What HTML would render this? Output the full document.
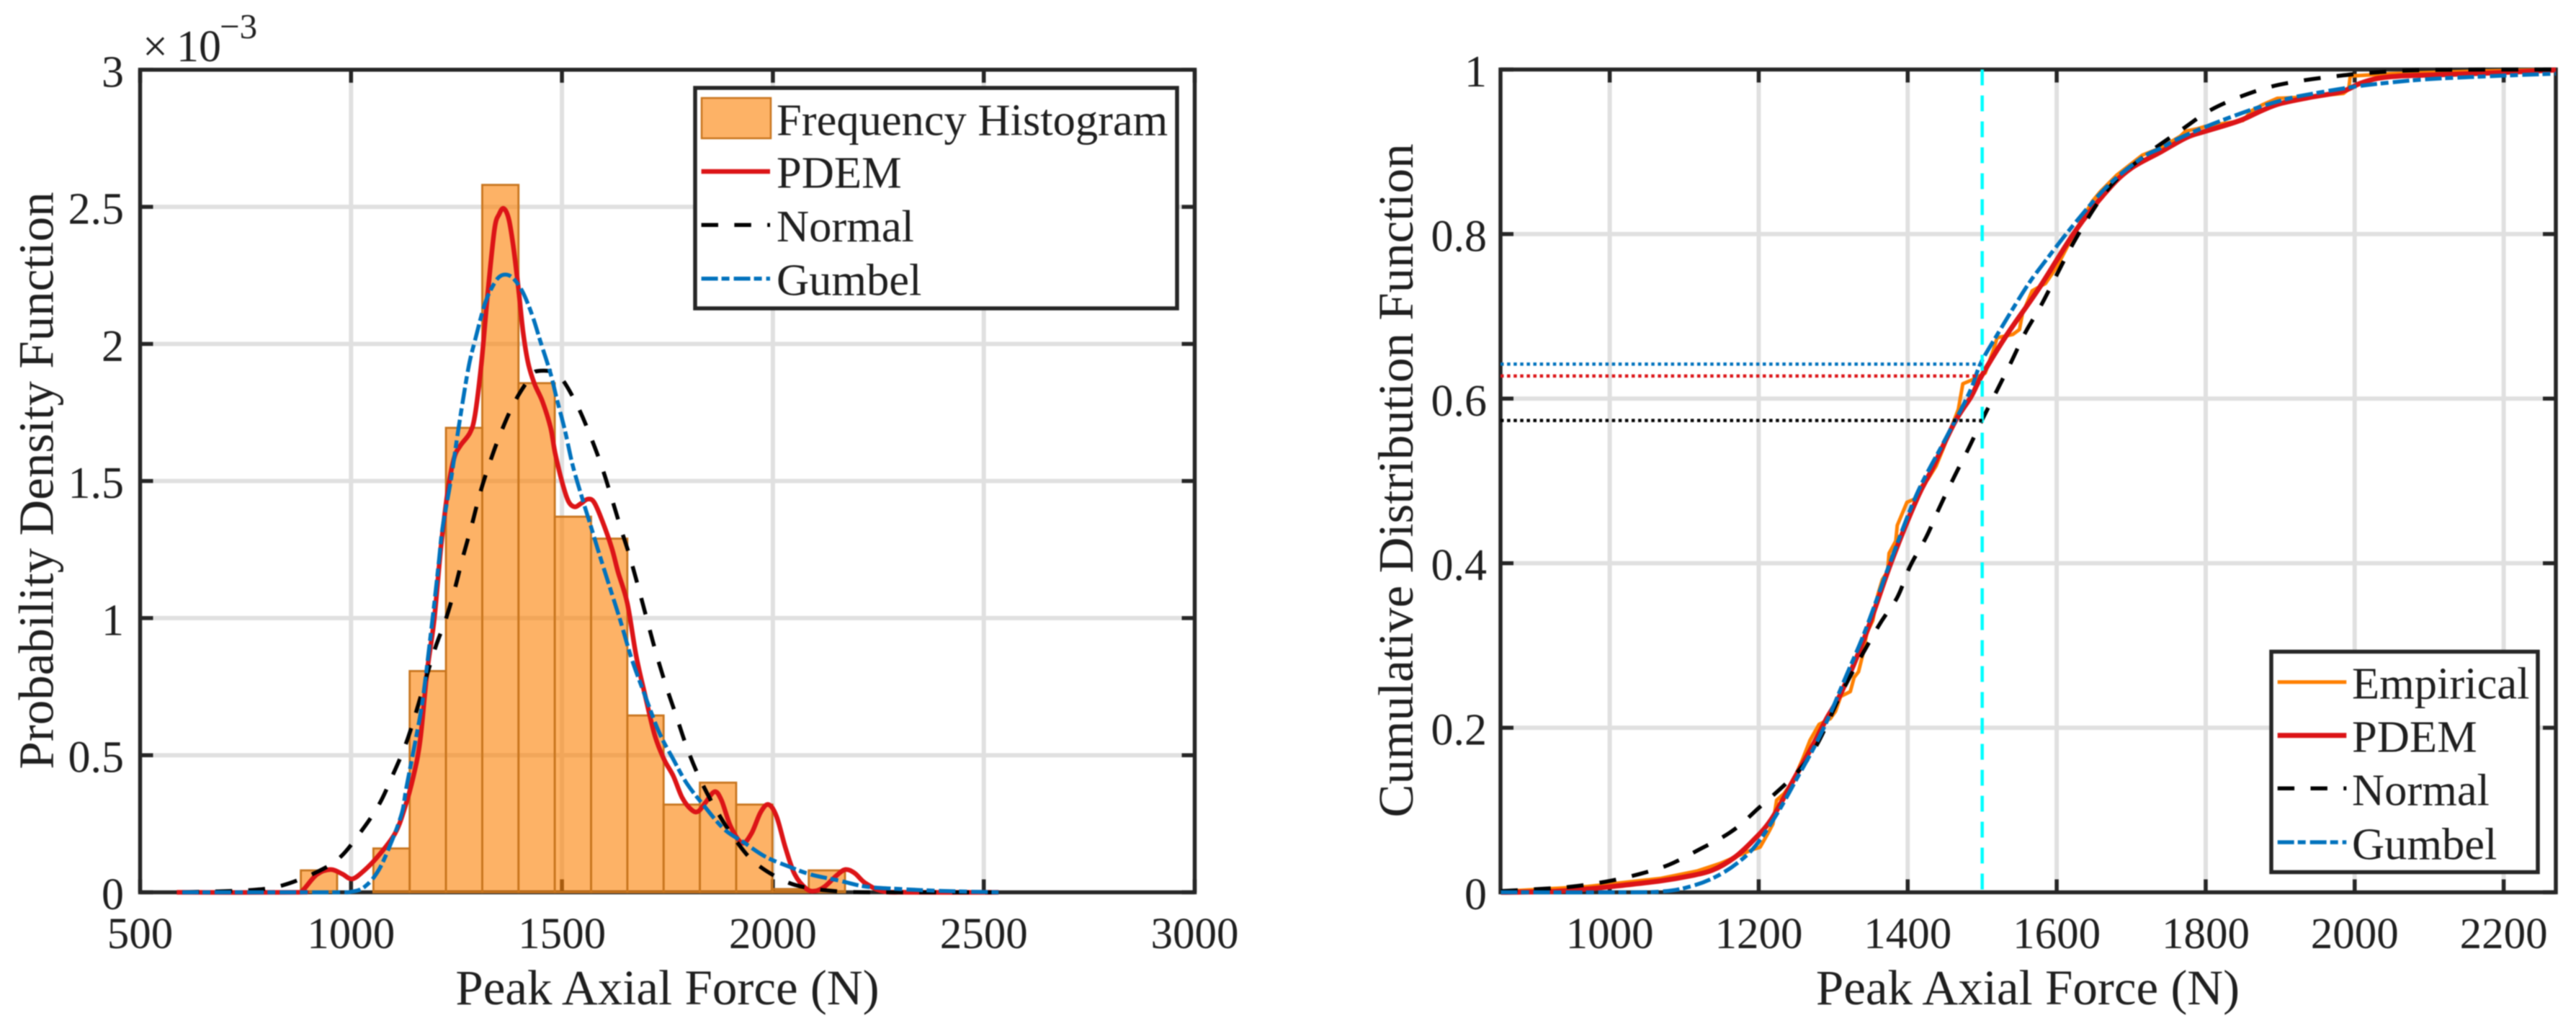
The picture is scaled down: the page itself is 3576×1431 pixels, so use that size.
<!DOCTYPE html>
<html lang="en">
<head>
<meta charset="utf-8">
<title>Peak Axial Force PDF and CDF</title>
<style>
html,body{margin:0;padding:0;background:#fff;}
svg{display:block;filter:blur(0.7px);}
text{font-family:"Liberation Serif",serif;fill:#1f1f1f;}
</style>
</head>
<body>
<svg id="figure" xmlns="http://www.w3.org/2000/svg" width="3576" height="1431" viewBox="0 0 3576 1431">
  <rect width="3576" height="1431" fill="#fff"/>
  <g id="left-chart"></g>
  <g id="right-chart"></g>

  <text y="85" font-size="62"><tspan x="198">×</tspan><tspan x="245">10</tspan><tspan x="305" y="53" font-size="49">−3</tspan></text>
  <text x="926.5" y="1394" font-size="69" text-anchor="middle">Peak Axial Force (N)</text>
  <text transform="translate(73.5,667) rotate(-90)" font-size="69" text-anchor="middle">Probability Density Function</text>
  <text x="2815" y="1394" font-size="69" text-anchor="middle">Peak Axial Force (N)</text>
  <text transform="translate(1961,667) rotate(-90)" font-size="69" text-anchor="middle">Cumulative Distribution Function</text>

  <g>
    <rect x="965" y="122" width="669" height="306" fill="#fff" stroke="#262626" stroke-width="5.5"/>
    <rect x="974" y="136" width="96" height="56" fill="#fb7f00" fill-opacity="0.6" stroke="#c8751e" stroke-width="2.5"/>
    <text x="1078" y="187.3" font-size="62.5">Frequency Histogram</text>
    <line x1="973.6" x2="1069" y1="238" y2="238" stroke="#dc1417" stroke-width="6.5"/>
    <text x="1078" y="260.7" font-size="62.5">PDEM</text>
    <line x1="973.6" x2="1069" y1="312.3" y2="312.3" stroke="#000" stroke-width="5.5" stroke-dasharray="23.4 22.4"/>
    <text x="1078" y="335" font-size="62.5">Normal</text>
    <line x1="973.6" x2="1069" y1="386.7" y2="386.7" stroke="#0072bd" stroke-width="5.5" stroke-dasharray="23 5 11 6"/>
    <text x="1078" y="409.3" font-size="62.5">Gumbel</text>
  </g>

  <g>
    <rect x="3153" y="904.5" width="370" height="306" fill="#fff" stroke="#262626" stroke-width="5.5"/>
    <line x1="3161.7" x2="3257.3" y1="946.7" y2="946.7" stroke="#ff8000" stroke-width="5.2"/>
    <text x="3265" y="969.3" font-size="62.5">Empirical</text>
    <line x1="3161.7" x2="3257.3" y1="1020.7" y2="1020.7" stroke="#dc1417" stroke-width="7"/>
    <text x="3265" y="1043.3" font-size="62.5">PDEM</text>
    <line x1="3161.7" x2="3257.3" y1="1094.3" y2="1094.3" stroke="#000" stroke-width="5.5" stroke-dasharray="23.4 22.4"/>
    <text x="3265" y="1117.7" font-size="62.5">Normal</text>
    <line x1="3161.7" x2="3257.3" y1="1169" y2="1169" stroke="#0072bd" stroke-width="5.5" stroke-dasharray="23 5 11 6"/>
    <text x="3265" y="1192.3" font-size="62.5">Gumbel</text>
  </g>
</svg>
<script>
/* ---------- PDF chart data ---------- */
const pdfXTicks = [500, 1000, 1500, 2000, 2500, 3000];
const pdfXTickLabels = ["500", "1000", "1500", "2000", "2500", "3000"];
const pdfYTicks = [0, 0.5, 1, 1.5, 2, 2.5, 3];
const pdfYTickLabels = ["0", "0.5", "1", "1.5", "2", "2.5", "3"];

const histEdges = [881, 967, 1053, 1139, 1225, 1311, 1397, 1483, 1569, 1655, 1741, 1827, 1913, 1999, 2085, 2171];
const histValues = [0.08, 0, 0.16, 0.807, 1.694, 2.58, 1.857, 1.37, 1.29, 0.645, 0.32, 0.40, 0.32, 0.012, 0.08];

const pdfPdemX = [587, 870, 886, 919, 952, 979, 1003, 1033, 1066, 1104, 1126, 1148, 1164, 1180, 1197, 1213, 1229, 1244, 1259, 1282, 1294, 1309, 1324, 1340, 1351, 1362, 1374, 1385, 1397, 1408, 1420, 1435, 1454, 1473, 1484, 1500, 1515, 1530, 1545, 1561, 1576, 1595, 1618, 1633, 1655, 1676, 1698, 1720, 1742, 1764, 1785, 1807, 1823, 1840, 1862, 1878, 1900, 1927, 1949, 1971, 1990, 2009, 2030, 2052, 2080, 2101, 2123, 2150, 2172, 2194, 2219, 2260, 2320, 2535];
const pdfPdemY = [0, 0, 0.008, 0.065, 0.083, 0.067, 0.049, 0.082, 0.135, 0.214, 0.301, 0.424, 0.555, 0.80, 0.993, 1.256, 1.46, 1.582, 1.629, 1.676, 1.742, 1.929, 2.183, 2.417, 2.473, 2.494, 2.455, 2.352, 2.2, 2.042, 1.929, 1.854, 1.789, 1.695, 1.601, 1.498, 1.427, 1.406, 1.418, 1.434, 1.423, 1.357, 1.256, 1.168, 1.054, 0.862, 0.713, 0.573, 0.485, 0.424, 0.345, 0.301, 0.295, 0.327, 0.367, 0.336, 0.24, 0.18, 0.214, 0.292, 0.32, 0.275, 0.161, 0.065, 0.012, 0.005, 0.021, 0.06, 0.083, 0.07, 0.034, 0.004, 0, 0];

const pdfNormalX = [600, 761, 837, 919, 973, 1022, 1066, 1099, 1129, 1153, 1197, 1224, 1246, 1264, 1286, 1305, 1328, 1355, 1388, 1427, 1443, 1481, 1504, 1538, 1568, 1595, 1618, 1641, 1660, 1682, 1704, 1725, 1747, 1771, 1796, 1824, 1862, 1905, 1954, 2020, 2080, 2172, 2300, 2535];
const pdfNormalY = [0, 0.008, 0.025, 0.074, 0.126, 0.218, 0.319, 0.428, 0.537, 0.651, 0.879, 0.993, 1.107, 1.216, 1.338, 1.451, 1.563, 1.676, 1.789, 1.883, 1.901, 1.897, 1.864, 1.77, 1.662, 1.55, 1.437, 1.32, 1.229, 1.107, 0.98, 0.862, 0.752, 0.643, 0.529, 0.424, 0.31, 0.205, 0.113, 0.047, 0.017, 0.002, 0, 0];

const pdfGumbelX = [600, 946, 1001, 1033, 1066, 1099, 1121, 1131, 1153, 1170, 1191, 1208, 1217, 1237, 1256, 1278, 1294, 1317, 1336, 1351, 1366, 1381, 1397, 1412, 1431, 1450, 1473, 1488, 1507, 1526, 1549, 1568, 1584, 1611, 1638, 1665, 1698, 1731, 1764, 1796, 1835, 1884, 1933, 1982, 2036, 2090, 2156, 2219, 2300, 2400, 2535];
const pdfGumbelY = [0, 0, 0.002, 0.021, 0.082, 0.196, 0.292, 0.38, 0.555, 0.704, 0.967, 1.203, 1.33, 1.507, 1.704, 1.91, 2.014, 2.145, 2.211, 2.244, 2.253, 2.244, 2.215, 2.173, 2.098, 2.004, 1.892, 1.798, 1.685, 1.554, 1.432, 1.338, 1.256, 1.124, 0.993, 0.853, 0.713, 0.581, 0.485, 0.397, 0.319, 0.231, 0.18, 0.13, 0.095, 0.065, 0.043, 0.021, 0.012, 0.005, 0];

/* ---------- CDF chart data ---------- */
const cdfXTicks = [1000, 1200, 1400, 1600, 1800, 2000, 2200];
const cdfXTickLabels = ["1000", "1200", "1400", "1600", "1800", "2000", "2200"];
const cdfYTicks = [0, 0.2, 0.4, 0.6, 0.8, 1];
const cdfYTickLabels = ["0", "0.2", "0.4", "0.6", "0.8", "1"];

const cdfEmpiricalX = [854, 970, 1069, 1118, 1148, 1192, 1202, 1212, 1219, 1224, 1234, 1246, 1259, 1269, 1281, 1296, 1303, 1310, 1323, 1328, 1334, 1340, 1345, 1353, 1360, 1366, 1373, 1375, 1384, 1386, 1399, 1412, 1418, 1427, 1438, 1448, 1468, 1474, 1487, 1504, 1515, 1520, 1541, 1550, 1554, 1567, 1585, 1600, 1626, 1648, 1659, 1681, 1715, 1740, 1766, 1773, 1789, 1800, 1821, 1850, 1862, 1876, 1896, 1935, 1985, 1992, 1994, 2049, 2162, 2270];
const cdfEmpiricalY = [0.001, 0.007, 0.017, 0.026, 0.035, 0.052, 0.055, 0.071, 0.083, 0.112, 0.12, 0.135, 0.162, 0.185, 0.204, 0.211, 0.22, 0.238, 0.244, 0.261, 0.268, 0.29, 0.315, 0.33, 0.362, 0.38, 0.39, 0.412, 0.427, 0.446, 0.474, 0.479, 0.493, 0.502, 0.518, 0.54, 0.587, 0.618, 0.623, 0.631, 0.659, 0.674, 0.678, 0.684, 0.703, 0.731, 0.74, 0.76, 0.805, 0.84, 0.852, 0.872, 0.896, 0.905, 0.919, 0.925, 0.928, 0.931, 0.934, 0.938, 0.95, 0.957, 0.965, 0.9665, 0.971, 0.976, 0.992, 0.995, 0.998, 1];

const cdfPdemX = [854, 921, 970, 1019, 1069, 1108, 1138, 1167, 1192, 1217, 1246, 1271, 1291, 1311, 1343, 1377, 1412, 1433, 1463, 1485, 1500, 1533, 1576, 1626, 1670, 1700, 1740, 1775, 1800, 1846, 1875, 1900, 1939, 1982, 2007, 2031, 2060, 2113, 2184, 2270];
const cdfPdemY = [0, 0.001, 0.004, 0.0087, 0.014, 0.02, 0.027, 0.042, 0.0625, 0.0887, 0.1355, 0.176, 0.211, 0.243, 0.3116, 0.3992, 0.4774, 0.5149, 0.5712, 0.6024, 0.629, 0.6775, 0.7338, 0.805, 0.855, 0.88, 0.9, 0.9177, 0.925, 0.938, 0.95, 0.9586, 0.966, 0.973, 0.983, 0.9893, 0.992, 0.9937, 0.9958, 0.9995];

const cdfNormalX = [854, 906, 950, 995, 1039, 1079, 1118, 1162, 1197, 1266, 1315, 1360, 1386, 1403, 1425, 1442, 1461, 1481, 1500, 1520, 1539, 1558, 1580, 1626, 1670, 1715, 1771, 1807, 1848, 1889, 1933, 1976, 2020, 2100, 2270];
const cdfNormalY = [0.0016, 0.004, 0.007, 0.013, 0.022, 0.0333, 0.051, 0.073, 0.1, 0.1617, 0.2493, 0.3223, 0.3585, 0.396, 0.432, 0.4664, 0.5024, 0.5383, 0.5743, 0.6103, 0.6447, 0.6806, 0.715, 0.795, 0.856, 0.893, 0.929, 0.951, 0.9675, 0.9795, 0.987, 0.992, 0.996, 0.9995, 1];

const cdfGumbelX = [854, 1000, 1069, 1108, 1142, 1172, 1197, 1226, 1251, 1276, 1296, 1315, 1343, 1377, 1412, 1446, 1468, 1485, 1498, 1520, 1558, 1582, 1626, 1670, 1715, 1740, 1761, 1796, 1839, 1881, 1917, 1952, 1988, 2024, 2094, 2184, 2270];
const cdfGumbelY = [0, 0, 0.0009, 0.007, 0.0187, 0.036, 0.058, 0.0975, 0.138, 0.179, 0.217, 0.258, 0.318, 0.4023, 0.4836, 0.543, 0.5806, 0.6118, 0.643, 0.6775, 0.7338, 0.764, 0.815, 0.86, 0.893, 0.9045, 0.915, 0.929, 0.944, 0.957, 0.966, 0.972, 0.9775, 0.982, 0.988, 0.992, 0.995];

const thresholdForce = [1500];
const cdfAtThreshold = [0.642, 0.6275, 0.5735];

/* ---------- helpers ---------- */
const NS = "http://www.w3.org/2000/svg";
function mk(parent, tag, attrs) {
  const e = document.createElementNS(NS, tag);
  for (const k in attrs) e.setAttribute(k, attrs[k]);
  parent.appendChild(e);
  return e;
}
function scale(d0, d1, r0, r1) {
  return v => r0 + (v - d0) / (d1 - d0) * (r1 - r0);
}
function smoothPath(xs, ys, sx, sy) {
  const p = xs.map((x, i) => [sx(x), sy(ys[i])]);
  let d = "M" + p[0][0].toFixed(1) + " " + p[0][1].toFixed(1);
  for (let i = 0; i < p.length - 1; i++) {
    const a = p[Math.max(0, i - 1)], b = p[i], c = p[i + 1], e = p[Math.min(p.length - 1, i + 2)];
    const c1x = b[0] + (c[0] - a[0]) / 6, c1y = b[1] + (c[1] - a[1]) / 6;
    const c2x = c[0] - (e[0] - b[0]) / 6, c2y = c[1] - (e[1] - b[1]) / 6;
    d += "C" + c1x.toFixed(1) + " " + c1y.toFixed(1) + " " + c2x.toFixed(1) + " " + c2y.toFixed(1) + " " + c[0].toFixed(1) + " " + c[1].toFixed(1);
  }
  return d;
}
function polyPath(xs, ys, sx, sy) {
  return xs.map((x, i) => (i ? "L" : "M") + sx(x).toFixed(1) + " " + sy(ys[i]).toFixed(1)).join("");
}

function drawFrame(g, prefix, box, sx, sy, xTicks, xLabels, yTicks, yLabels, labelRight) {
  const grid = "#e0e0e0", ink = "#262626";
  xTicks.forEach(v => {
    const x = sx(v);
    if (x <= box.l + 1 || x >= box.r - 1) return;
    const gl = mk(g, "line", {x1: x, x2: x, y1: box.t, y2: box.b, stroke: grid, "stroke-width": 6});
    
    
  });
  yTicks.forEach(v => {
    const y = sy(v);
    if (y <= box.t + 1 || y >= box.b - 1) return;
    const gl = mk(g, "line", {x1: box.l, x2: box.r, y1: y, y2: y, stroke: grid, "stroke-width": 6});
    
    
  });
  xTicks.forEach((v, i) => {
    const x = sx(v);
    const t1 = mk(g, "line", {x1: x, x2: x, y1: box.b, y2: box.b - 18, stroke: ink, "stroke-width": 5.5});
    
    
    const t2 = mk(g, "line", {x1: x, x2: x, y1: box.t, y2: box.t + 18, stroke: ink, "stroke-width": 5.5});
    
    
    const lab = mk(g, "text", {x: x, y: 1316, "font-size": 61, "text-anchor": "middle"});
    lab.textContent = xLabels[i];
    
    
  });
  yTicks.forEach((v, i) => {
    const y = sy(v);
    const t1 = mk(g, "line", {x1: box.l, x2: box.l + 18, y1: y, y2: y, stroke: ink, "stroke-width": 5.5});
    
    
    const t2 = mk(g, "line", {x1: box.r, x2: box.r - 18, y1: y, y2: y, stroke: ink, "stroke-width": 5.5});
    
    
    const lab = mk(g, "text", {x: labelRight, y: y + 23.5, "font-size": 62, "text-anchor": "end"});
    lab.textContent = yLabels[i];
    
    
  });
  const frame = mk(g, "rect", {x: box.l, y: box.t, width: box.r - box.l, height: box.b - box.t, fill: "none", stroke: ink, "stroke-width": 5.5});
  
  
}

const RED = "#dc1417", BLUE = "#0072bd", ORANGE = "#ff8000";
const DASH = "23.4 22.4", DASHDOT = "23 5 11 6";

/* ---------- PDF chart ---------- */
(function () {
  const g = document.getElementById("left-chart");
  const box = {l: 194.5, r: 1658.5, t: 96.8, b: 1238.5};
  const sx = scale(500, 3000, box.l, box.r);
  const sy = scale(0, 3, box.b, box.t);
  drawFrame(g, "pdf", box, sx, sy, pdfXTicks, pdfXTickLabels, pdfYTicks, pdfYTickLabels, 172);
  histValues.forEach((v, i) => {
    const x0 = sx(histEdges[i]), x1 = sx(histEdges[i + 1]), y = sy(v);
    if (v <= 0) return;
    const bar = mk(g, "rect", {x: x0, y: y, width: x1 - x0, height: box.b - y, fill: "#fb7f00", "fill-opacity": 0.6, stroke: "#c8751e", "stroke-width": 2.8});
    
    
  });
  const pdem = mk(g, "path", {d: smoothPath(pdfPdemX, pdfPdemY, sx, sy), fill: "none", stroke: RED, "stroke-width": 6.5, "stroke-linejoin": "round"});
  
  
  const normal = mk(g, "path", {d: smoothPath(pdfNormalX, pdfNormalY, sx, sy), fill: "none", stroke: "#000", "stroke-width": 5.5, "stroke-dasharray": DASH});
  
  
  const gumbel = mk(g, "path", {d: smoothPath(pdfGumbelX, pdfGumbelY, sx, sy), fill: "none", stroke: BLUE, "stroke-width": 5.5, "stroke-dasharray": DASHDOT});
  
  
})();

/* ---------- CDF chart ---------- */
(function () {
  const g = document.getElementById("right-chart");
  const box = {l: 2083, r: 3548, t: 96.5, b: 1238.5};
  const sx = scale(853.4, 2270, box.l, box.r);
  const sy = scale(0, 1, box.b, box.t);
  drawFrame(g, "cdf", box, sx, sy, cdfXTicks, cdfXTickLabels, cdfYTicks, cdfYTickLabels, 2064);
  const emp = mk(g, "path", {d: polyPath(cdfEmpiricalX, cdfEmpiricalY, sx, sy), fill: "none", stroke: ORANGE, "stroke-width": 5, "stroke-linejoin": "round"});
  
  
  const pdem = mk(g, "path", {d: smoothPath(cdfPdemX, cdfPdemY, sx, sy), fill: "none", stroke: RED, "stroke-width": 7, "stroke-linejoin": "round"});
  
  
  const normal = mk(g, "path", {d: smoothPath(cdfNormalX, cdfNormalY, sx, sy), fill: "none", stroke: "#000", "stroke-width": 5.5, "stroke-dasharray": DASH});
  
  
  const gumbel = mk(g, "path", {d: smoothPath(cdfGumbelX, cdfGumbelY, sx, sy), fill: "none", stroke: BLUE, "stroke-width": 5.5, "stroke-dasharray": DASHDOT});
  
  

  const vx = sx(thresholdForce[0]);
  const vline = mk(g, "line", {x1: vx, x2: vx, y1: box.t, y2: box.b, stroke: "#00ffff", "stroke-width": 4.5, "stroke-dasharray": "22 14"});
  
  
  const dotColors = [BLUE, RED, "#000"];
  cdfAtThreshold.forEach((v, i) => {
    const y = sy(v);
    const l = mk(g, "line", {x1: box.l, x2: vx, y1: y, y2: y, stroke: dotColors[i], "stroke-width": 4.5, "stroke-dasharray": "4.5 4.6"});
    
    
  });
})();
</script>
</body>
</html>
